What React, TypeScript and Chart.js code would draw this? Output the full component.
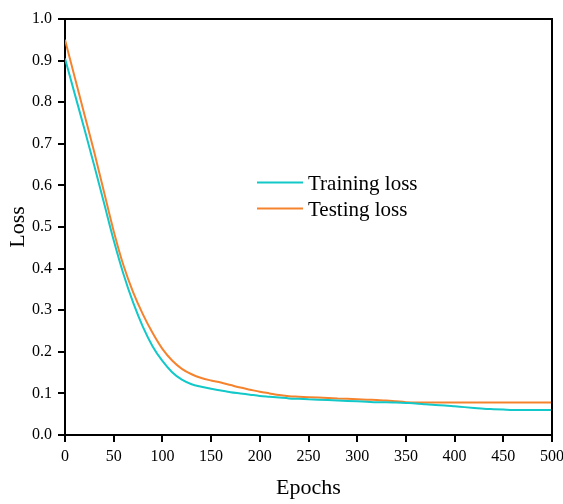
import React, { useEffect, useRef } from "react";
import { Chart, registerables } from "chart.js";

Chart.register(...registerables);

const epochs = [
  0, 10, 20, 30, 40, 50, 60, 70, 80, 90, 100, 110, 120, 130, 140, 150, 160, 170, 180, 190, 200,
  210, 220, 230, 240, 250, 260, 270, 280, 290, 300, 310, 320, 330, 340, 350, 360, 370, 380, 390, 400,
  410, 420, 430, 440, 450, 460, 470, 480, 490, 500,
];

const trainingLoss = [
  0.905, 0.82, 0.735, 0.648, 0.558, 0.468, 0.387, 0.318, 0.26, 0.213, 0.178,
  0.151, 0.133, 0.122, 0.116, 0.111, 0.107, 0.103, 0.1, 0.097, 0.094,
  0.092, 0.09, 0.088, 0.087, 0.086, 0.085, 0.084, 0.083, 0.082, 0.081,
  0.08, 0.079, 0.079, 0.078, 0.077, 0.076, 0.074, 0.072, 0.071, 0.069,
  0.067, 0.065, 0.063, 0.062, 0.061, 0.06, 0.06, 0.06, 0.06, 0.06,
];

const testingLoss = [
  0.95, 0.86, 0.77, 0.68, 0.585, 0.49, 0.408, 0.343, 0.29, 0.245, 0.207,
  0.179, 0.159, 0.146, 0.137, 0.131, 0.126, 0.12, 0.114, 0.109, 0.104,
  0.1, 0.096, 0.093, 0.092, 0.091, 0.09, 0.089, 0.088, 0.087, 0.086,
  0.085, 0.084, 0.083, 0.081, 0.079, 0.078, 0.078, 0.078, 0.078, 0.078,
  0.078, 0.078, 0.078, 0.078, 0.078, 0.078, 0.078, 0.078, 0.078, 0.078,
];

const seriesLabels = ["Training loss", "Testing loss"];
const seriesColors = ["#12C8C8", "#F5832E"];

const FONT = "'Liberation Serif', 'Times New Roman', serif";

const framePlugin = {
  id: "frameAndLegend",
  afterDatasetsDraw(chart: any) {
    const { ctx, chartArea } = chart;
    const { left, right, top, bottom } = chartArea;
    ctx.save();
    ctx.strokeStyle = "#000";
    ctx.lineWidth = 2;
    ctx.beginPath();
    ctx.moveTo(left - 1, top);
    ctx.lineTo(right, top);
    ctx.lineTo(right, bottom + 1);
    ctx.stroke();

    // legend inside the plot
    const items = chart.data.datasets;
    const lx0 = 257;
    const lx1 = 303;
    const tx = 308;
    const rows = [182.5, 208.5];
    ctx.font = `21px ${FONT}`;
    ctx.textBaseline = "alphabetic";
    ctx.textAlign = "left";
    items.forEach((ds: any, i: number) => {
      ctx.strokeStyle = ds.borderColor;
      ctx.lineWidth = 2;
      ctx.beginPath();
      ctx.moveTo(lx0, rows[i]);
      ctx.lineTo(lx1, rows[i]);
      ctx.stroke();
      ctx.fillStyle = "#000";
      ctx.fillText(ds.label, tx, rows[i] + 7);
    });
    ctx.restore();
  },
};

export default function App() {
  const canvasRef = useRef<HTMLCanvasElement | null>(null);

  useEffect(() => {
    if (!canvasRef.current) return;
    const chart = new Chart(canvasRef.current, {
      type: "line",
      data: {
        datasets: [
          {
            label: seriesLabels[0],
            data: epochs.map((e, i) => ({ x: e, y: trainingLoss[i] })),
            borderColor: seriesColors[0],
            backgroundColor: seriesColors[0],
            borderWidth: 2,
            pointRadius: 0,
            cubicInterpolationMode: "monotone",
          },
          {
            label: seriesLabels[1],
            data: epochs.map((e, i) => ({ x: e, y: testingLoss[i] })),
            borderColor: seriesColors[1],
            backgroundColor: seriesColors[1],
            borderWidth: 2,
            pointRadius: 0,
            cubicInterpolationMode: "monotone",
          },
        ],
      },
      options: {
        animation: false,
        responsive: false,
        maintainAspectRatio: false,
        layout: { padding: { top: 19, right: 11, left: 0, bottom: 0 } },
        plugins: {
          legend: { display: false },
          tooltip: { enabled: false },
        },
        scales: {
          x: {
            type: "linear",
            min: 0,
            max: 500,
            afterFit: (scale: any) => {
              scale.height = 69;
              scale.paddingLeft = 0;
              scale.paddingRight = 0;
            },
            ticks: {
              stepSize: 50,
              color: "#000",
              padding: 5,
              maxRotation: 0,
              font: { family: FONT, size: 16 },
            },
            grid: {
              drawOnChartArea: false,
              drawTicks: true,
              tickLength: 7,
              color: "#000",
              lineWidth: 2,
            },
            border: { display: true, color: "#000", width: 2 },
            title: {
              display: true,
              text: "Epochs",
              color: "#000",
              font: { family: FONT, size: 22 },
              padding: { top: 0, bottom: 3 },
            },
          },
          y: {
            type: "linear",
            min: 0,
            max: 1,
            afterFit: (scale: any) => {
              scale.width = 65;
              scale.paddingTop = 0;
              scale.paddingBottom = 0;
            },
            ticks: {
              stepSize: 0.1,
              color: "#000",
              padding: 6,
              font: { family: FONT, size: 16 },
              callback: (v: any) => Number(v).toFixed(1),
            },
            grid: {
              drawOnChartArea: false,
              drawTicks: true,
              tickLength: 7,
              color: "#000",
              lineWidth: 2,
            },
            border: { display: true, color: "#000", width: 2 },
            title: {
              display: true,
              text: "Loss",
              color: "#000",
              font: { family: FONT, size: 22 },
              padding: { top: 5, bottom: 0 },
            },
          },
        },
      },
      plugins: [framePlugin],
    });
    return () => chart.destroy();
  }, []);

  return (
    <div style={{ position: "absolute", left: 0, top: 0, width: 563, height: 504, background: "#fff" }}>
      <canvas ref={canvasRef} width={563} height={504} style={{ display: "block" }} />
    </div>
  );
}
